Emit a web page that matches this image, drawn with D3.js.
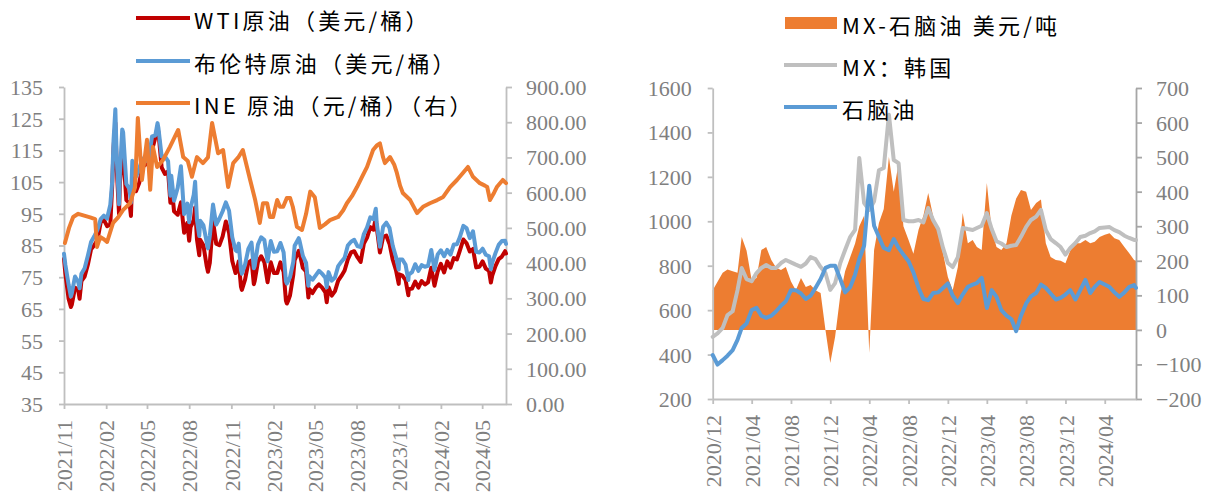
<!DOCTYPE html>
<html><head><meta charset="utf-8">
<script src="https://cdn.jsdelivr.net/npm/d3@7"></script>
<style>body{margin:0;background:#fff}svg{display:block}</style>
</head><body>
<svg id="c" width="1207" height="501"></svg>
<script>
// ---------------- LEFT CHART DATA ----------------
const oilDates = ["2021-11-16","2021-11-19","2021-11-26","2021-12-01","2021-12-03","2021-12-10","2021-12-17","2021-12-20","2021-12-24","2021-12-31",
"2022-01-07","2022-01-14","2022-01-21","2022-01-28","2022-02-04","2022-02-11","2022-02-18","2022-02-25","2022-03-01","2022-03-04","2022-03-08","2022-03-11","2022-03-16","2022-03-18","2022-03-23","2022-03-25",
"2022-04-01","2022-04-08","2022-04-11","2022-04-14","2022-04-22","2022-04-29","2022-05-06","2022-05-13","2022-05-20","2022-05-27","2022-06-03","2022-06-08","2022-06-10","2022-06-17","2022-06-24",
"2022-07-01","2022-07-06","2022-07-08","2022-07-14","2022-07-22","2022-07-29","2022-08-05","2022-08-12","2022-08-16","2022-08-19","2022-08-26","2022-08-29","2022-09-02","2022-09-07","2022-09-09","2022-09-16","2022-09-23","2022-09-26","2022-09-30",
"2022-10-07","2022-10-14","2022-10-21","2022-10-28","2022-11-04","2022-11-11","2022-11-18","2022-11-25","2022-11-28","2022-12-02","2022-12-07","2022-12-09","2022-12-16","2022-12-23","2022-12-30",
"2023-01-04","2023-01-06","2023-01-13","2023-01-20","2023-01-27","2023-02-03","2023-02-10","2023-02-17","2023-02-24","2023-03-03","2023-03-10","2023-03-15","2023-03-17","2023-03-20","2023-03-24","2023-03-31",
"2023-04-03","2023-04-12","2023-04-14","2023-04-21","2023-04-28","2023-05-03","2023-05-05","2023-05-12","2023-05-19","2023-05-26","2023-06-02","2023-06-09","2023-06-12","2023-06-16","2023-06-23","2023-06-30",
"2023-07-07","2023-07-14","2023-07-21","2023-07-28","2023-08-04","2023-08-11","2023-08-18","2023-08-25","2023-09-01","2023-09-08","2023-09-15","2023-09-22","2023-09-27","2023-09-29",
"2023-10-06","2023-10-13","2023-10-20","2023-10-27","2023-11-03","2023-11-10","2023-11-16","2023-11-17","2023-11-24","2023-12-01","2023-12-07","2023-12-08","2023-12-15","2023-12-22","2023-12-29",
"2024-01-05","2024-01-12","2024-01-19","2024-01-26","2024-02-02","2024-02-09","2024-02-16","2024-02-23","2024-03-01","2024-03-08","2024-03-15","2024-03-22","2024-03-28",
"2024-04-05","2024-04-12","2024-04-19","2024-04-26","2024-05-03","2024-05-10","2024-05-17","2024-05-24","2024-05-31","2024-06-04","2024-06-07","2024-06-14","2024-06-21","2024-06-28","2024-07-05","2024-07-07"];
const wtiPrice = [80.8,76.1,68.2,65.6,66.3,71.7,70.9,68.2,73.8,75.2,
78.9,83.8,85.1,86.8,92.3,93.1,91.1,91.6,103.4,115.7,123.7,109.3,95.0,104.7,114.9,113.9,
99.3,98.3,94.3,107.0,102.1,104.7,109.8,110.5,113.2,115.1,118.9,122.1,120.7,109.6,107.6,
108.4,98.5,104.8,95.8,94.7,98.6,89.0,92.1,86.5,90.8,93.1,97.0,86.9,81.9,86.8,85.1,78.7,76.7,79.5,
92.6,85.6,85.1,87.9,92.6,89.0,80.1,76.3,77.2,80.0,72.0,71.0,74.3,79.6,80.3,
72.8,73.8,79.9,81.6,79.7,73.4,79.7,76.3,76.3,79.7,76.7,67.6,66.7,67.6,69.3,75.7,
80.4,83.3,82.5,77.9,76.8,68.6,71.3,70.0,71.7,72.7,71.7,70.2,67.1,71.8,69.2,70.6,
73.9,75.4,77.1,80.6,82.8,83.2,81.3,79.8,85.6,87.5,90.8,90.0,93.7,90.8,
82.8,87.7,88.1,85.5,80.5,77.2,72.9,75.9,75.5,74.1,69.3,71.2,71.4,73.6,71.7,
73.8,72.7,73.4,78.0,72.3,76.8,79.2,76.5,80.0,78.0,81.0,80.6,83.2,
86.9,85.7,83.1,83.9,78.1,78.3,80.0,77.7,77.0,73.3,75.5,78.5,80.7,81.5,83.2,82.5];
const brentPrice = [82.4,78.9,72.7,68.9,69.9,75.2,73.5,71.5,76.1,77.8,
81.8,86.1,87.9,90.0,93.3,94.4,93.5,97.9,105.0,118.1,128.0,112.7,98.0,107.9,121.6,120.7,
104.4,102.8,98.5,111.7,106.7,109.3,112.4,111.6,112.6,119.4,119.7,123.6,122.0,113.1,113.1,
111.6,100.7,107.0,99.1,103.2,110.0,94.9,98.2,92.3,96.7,101.0,105.1,93.0,88.0,92.8,91.4,86.2,84.1,88.0,
97.9,91.6,93.5,95.8,98.6,96.0,87.6,83.6,83.2,85.6,77.2,76.1,79.0,83.9,85.9,
77.8,78.6,85.3,87.6,86.7,80.0,86.4,83.0,83.2,85.8,82.8,73.7,73.0,73.8,75.0,79.8,
84.9,87.3,86.3,81.7,79.5,72.3,75.3,74.2,75.6,77.0,76.1,74.8,71.8,76.6,73.9,74.9,
78.5,79.9,81.1,85.0,86.2,86.8,84.8,84.5,88.6,90.7,93.9,93.3,96.6,92.2,
84.6,90.9,92.2,90.5,84.9,81.4,77.4,80.6,80.6,78.9,74.1,75.8,76.6,79.1,77.0,
78.8,78.3,78.6,83.6,77.3,82.2,83.5,81.6,83.6,82.1,85.3,85.4,87.5,
91.2,90.5,87.3,89.5,83.0,82.8,84.0,82.1,81.6,77.5,79.6,82.6,85.2,86.4,86.5,85.5];
const ineDates = ["2021-11-18","2021-11-27","2021-12-06","2021-12-17","2021-12-30","2022-01-12","2022-01-23","2022-01-27","2022-02-03","2022-02-11","2022-02-18",
"2022-03-03","2022-03-14","2022-03-25","2022-04-09","2022-04-20","2022-04-26","2022-05-05","2022-05-16","2022-05-23","2022-05-29","2022-06-07","2022-06-20",
"2022-07-05","2022-07-23","2022-08-03","2022-08-13","2022-08-22","2022-09-02","2022-09-15","2022-09-26","2022-10-05","2022-10-18","2022-10-29",
"2022-11-09","2022-11-20","2022-12-01","2022-12-11","2022-12-27","2023-01-07","2023-01-17","2023-01-24","2023-02-02","2023-02-08","2023-02-15","2023-02-24",
"2023-03-02","2023-03-09","2023-03-17","2023-03-24","2023-03-30","2023-04-08","2023-04-19","2023-04-28","2023-05-07","2023-05-17","2023-05-28",
"2023-06-08","2023-06-19","2023-07-07","2023-07-18","2023-07-26","2023-08-06","2023-08-17","2023-08-28","2023-09-08","2023-09-21","2023-09-30",
"2023-10-06","2023-10-13","2023-10-17","2023-10-28","2023-11-06","2023-11-12","2023-11-19","2023-11-25","2023-12-11","2023-12-26",
"2024-01-08","2024-01-23","2024-02-08","2024-02-21","2024-03-07","2024-03-22","2024-04-04","2024-04-15","2024-04-26",
"2024-05-11","2024-05-22","2024-05-27","2024-06-02","2024-06-11","2024-06-17","2024-06-30","2024-07-07"];
const inePrice = [457,500,531,540,535,530,525,446,474,468,460,
514,530,551,570,616,812,636,750,608,730,673,693,
730,778,701,690,645,701,684,700,798,712,721,
616,684,700,721,636,579,514,570,570,531,531,579,
560,560,585,585,560,503,494,540,603,587,500,
510,522,531,550,570,590,616,645,673,721,735,
740,700,684,701,680,656,620,599,579,542,
560,570,579,588,616,636,656,673,645,
627,620,616,579,600,616,636,627];
const leftTickDates = ["2021-11-16","2022-02-16","2022-05-16","2022-08-16","2022-11-16","2023-02-16","2023-05-16","2023-08-16","2023-11-16","2024-02-16","2024-05-16"];
const leftYTicks = [35,45,55,65,75,85,95,105,115,125,135];
const leftY2Ticks = [0,100,200,300,400,500,600,700,800,900];

// ---------------- RIGHT CHART DATA ----------------
const mxDates = ["2020-12-01","2020-12-16",
"2021-01-01","2021-01-16","2021-02-01","2021-02-16","2021-03-01","2021-03-16","2021-04-01","2021-04-16","2021-05-01","2021-05-16","2021-06-01","2021-06-16",
"2021-07-01","2021-07-16","2021-08-01","2021-08-16","2021-09-01","2021-09-16","2021-10-01","2021-10-16","2021-11-01","2021-11-16","2021-12-01","2021-12-16",
"2022-01-01","2022-01-16","2022-02-01","2022-02-16","2022-03-01","2022-03-16","2022-04-01","2022-04-16","2022-05-01","2022-05-16","2022-06-01","2022-06-16",
"2022-07-01","2022-07-16","2022-08-01","2022-08-16","2022-09-01","2022-09-16","2022-10-01","2022-10-16","2022-11-01","2022-11-16","2022-12-01","2022-12-16",
"2023-01-01","2023-01-16","2023-02-01","2023-02-16","2023-03-01","2023-03-16","2023-04-01","2023-04-16","2023-05-01","2023-05-16","2023-06-01","2023-06-16",
"2023-07-01","2023-07-16","2023-08-01","2023-08-16","2023-09-01","2023-09-16","2023-10-01","2023-10-16","2023-11-01","2023-11-16","2023-12-01","2023-12-16",
"2024-01-01","2024-01-16","2024-02-01","2024-02-16","2024-03-01","2024-03-16","2024-04-01","2024-04-16","2024-05-01","2024-05-16","2024-06-01","2024-06-16","2024-07-01","2024-07-07"];
const mxSpread = [115,139,
165,175,170,165,269,230,144,150,231,240,202,180,173,182,140,115,150,124,130,115,107,0,-96,-20,
100,170,211,250,300,330,-67,231,309,350,500,400,482,300,260,220,290,330,396,330,289,222,153,115,
182,338,251,260,240,231,425,289,240,231,251,330,380,405,400,347,367,377,251,211,202,200,193,230,
251,251,260,251,255,269,275,280,265,260,240,222,202,200];
const mxKorea = [480,495,
520,578,595,690,790,740,730,767,790,803,790,790,812,826,815,805,795,810,839,830,794,767,691,722,
812,871,930,961,1285,1082,1051,1090,1230,1240,1480,1276,1262,1006,1000,1000,1006,995,1060,1006,965,880,812,794,
839,970,965,961,970,980,1037,965,910,900,884,890,893,930,975,1006,1021,1051,961,920,902,884,850,880,
902,929,935,947,955,970,972,974,960,951,935,925,916,916];
const naphtha = [398,355,
375,395,420,466,520,540,600,610,575,565,575,595,620,640,690,690,675,650,665,700,740,790,800,800,
740,680,704,760,830,890,1160,980,930,880,870,920,880,850,820,770,700,650,645,677,680,700,720,665,
632,670,705,715,722,745,610,690,660,600,575,560,505,575,630,662,677,715,700,675,648,655,670,690,
648,690,736,677,705,727,715,704,680,660,680,705,713,700];
const rightTickDates = ["2020-12-01","2021-04-01","2021-08-01","2021-12-01","2022-04-01","2022-08-01","2022-12-01","2023-04-01","2023-08-01","2023-12-01","2024-04-01"];
const rightYTicks = [200,400,600,800,1000,1200,1400,1600];
const rightY2Ticks = [-200,-100,0,100,200,300,400,500,600,700];

// ---------------- LEGENDS ----------------
const leftLegend = ["WTI原油（美元/桶）","布伦特原油（美元/桶）","INE 原油（元/桶）（右）"];
const rightLegend = ["MX-石脑油 美元/吨","MX：韩国","石脑油"];

// ---------------- DRAW ----------------
const parse = d3.timeParse("%Y-%m-%d");
const fmt = d3.timeFormat("%Y/%m");
const svg = d3.select("#c");
const tickFont = '"Liberation Serif"';
const cjkFont = '"Noto Sans CJK SC"';
const C = {red:"#C00000", blue:"#5B9BD5", orange:"#ED7D31", grey:"#BFBFBF", axis:"#BFBFBF", label:"#7F7F7F"};

function styleAxis(g, color){
  g.attr("font-family", tickFont).attr("font-size", 22);
  g.select(".domain").attr("stroke", color).attr("stroke-width", 1.8);
  g.selectAll(".tick line").attr("stroke", color).attr("stroke-width", 1.8);
  g.selectAll(".tick text").attr("fill", C.label).attr("font-family", tickFont).attr("font-size", 22);
}
function xAxis(x, y, tickDates){
  const g = svg.append("g").attr("transform", `translate(0,${y})`)
    .call(d3.axisBottom(x).tickValues(tickDates.map(parse)).tickFormat(fmt).tickSize(5).tickSizeOuter(0));
  styleAxis(g, C.axis);
  g.selectAll(".tick text").attr("transform","rotate(-90)").attr("text-anchor","end")
    .attr("x",-16).attr("y",0).attr("dy","0.35em");
}
function yAxisLeft(y, x, ticks, f){
  const g = svg.append("g").attr("transform", `translate(${x},0)`)
    .call(d3.axisLeft(y).tickValues(ticks).tickFormat(f).tickSize(5).tickPadding(16).tickSizeOuter(0));
  styleAxis(g, C.axis);
  g.selectAll(".tick text").attr("dy","0.34em");
}
function yAxisRight(y, x, ticks, f, color){
  const g = svg.append("g").attr("transform", `translate(${x},0)`)
    .call(d3.axisRight(y).tickValues(ticks).tickFormat(f).tickSize(6).tickPadding(14).tickSizeOuter(0));
  styleAxis(g, color);
  g.selectAll(".tick text").attr("dy","0.34em");
}
function drawLine(x, y, dates, vals, color, w){
  const data = dates.map((d,i)=>[parse(d), vals[i]]);
  svg.append("path").datum(data).attr("fill","none").attr("stroke",color).attr("stroke-width",w)
    .attr("stroke-linejoin","round").attr("stroke-linecap","round")
    .attr("d", d3.line().x(d=>x(d[0])).y(d=>y(d[1])));
}

// Left chart
const xL = d3.scaleTime().domain([parse("2021-11-16"), parse("2024-07-07")]).range([64,506]);
const yL = d3.scaleLinear().domain([35,135]).range([404,87]);
const yL2 = d3.scaleLinear().domain([0,900]).range([404,87]);
yAxisLeft(yL, 64, leftYTicks, d3.format("d"));
yAxisRight(yL2, 506, leftY2Ticks, d3.format(".2f"), C.axis);
xAxis(xL, 404, leftTickDates);
drawLine(xL, yL, oilDates, wtiPrice, C.red, 4);
drawLine(xL, yL, oilDates, brentPrice, C.blue, 4);
drawLine(xL, yL2, ineDates, inePrice, C.orange, 4);

// Right chart
const xR = d3.scaleTime().domain([parse("2020-12-01"), parse("2024-07-07")]).range([712.7,1136]);
const yR = d3.scaleLinear().domain([200,1600]).range([399,88]);
const yR2 = d3.scaleLinear().domain([-200,700]).range([399,88]);
const spreadData = mxDates.map((d,i)=>[parse(d), mxSpread[i]]);
svg.append("path").datum(spreadData).attr("fill", C.orange)
  .attr("d", d3.area().x(d=>xR(d[0])).y0(yR2(0)).y1(d=>yR2(d[1])));
yAxisLeft(yR, 712.7, rightYTicks, d3.format("d"));
yAxisRight(yR2, 1136, rightY2Ticks, d3.format("d"), "#A6A6A6");
xAxis(xR, 399, rightTickDates);
drawLine(xR, yR, mxDates, mxKorea, C.grey, 4);
drawLine(xR, yR, mxDates, naphtha, C.blue, 4);

// Legends
function legendText(x, y, t){
  svg.append("text").attr("x",x).attr("y",y).attr("dominant-baseline","central")
    .attr("font-family",cjkFont).attr("font-size",22).style("letter-spacing","3.2px")
    .attr("fill","#000").text(t);
}
const leftColors = [C.red, C.blue, C.orange];
const leftRows = [18, 61, 103];
leftLegend.forEach((t,i)=>{
  svg.append("line").attr("x1",136).attr("x2",190).attr("y1",leftRows[i]).attr("y2",leftRows[i])
    .attr("stroke",leftColors[i]).attr("stroke-width",4);
  legendText(194, leftRows[i]+1, t);
});
const rightRows = [23, 65, 107];
svg.append("rect").attr("x",785).attr("y",17).attr("width",52).attr("height",12).attr("fill",C.orange);
svg.append("line").attr("x1",784).attr("x2",837).attr("y1",65).attr("y2",65).attr("stroke",C.grey).attr("stroke-width",4);
svg.append("line").attr("x1",784).attr("x2",837).attr("y1",107).attr("y2",107).attr("stroke",C.blue).attr("stroke-width",4);
rightLegend.forEach((t,i)=> legendText(842, rightRows[i]+1, t));
</script>
</body></html>
